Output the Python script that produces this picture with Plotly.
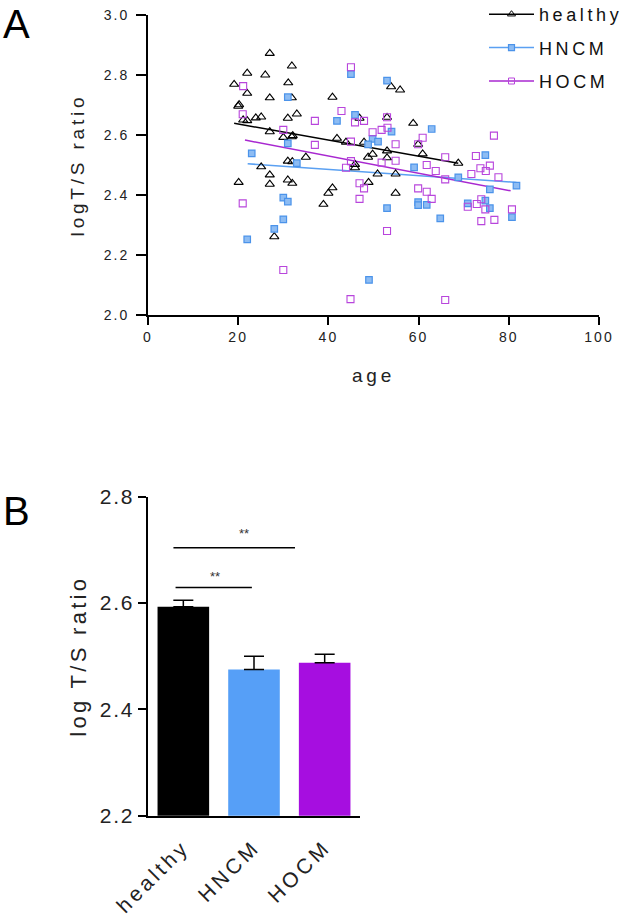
import plotly.graph_objects as go

FONT = "Liberation Sans, Arial, sans-serif"

# ---------------- Panel A data (age, log T/S ratio) ----------------
healthy_age = [27.0, 31.9, 22.0, 26.0, 31.1, 19.1, 22.0, 27.0, 31.9, 20.0, 20.2, 21.1, 22.0, 23.9,
               25.1, 31.0, 33.0, 27.0, 30.0, 31.9, 32.1, 35.0, 31.0, 32.0, 25.1, 27.0, 27.0, 20.1,
               31.0, 32.0, 38.9, 28.0, 53.9, 55.9, 40.9, 46.9, 53.0, 58.8, 41.9, 43.9, 47.9, 59.9,
               48.8, 49.8, 53.0, 53.0, 45.9, 45.9, 50.9, 54.9, 48.9, 40.9, 40.0, 54.9, 60.9, 68.8]
healthy_val = [2.872, 2.830, 2.806, 2.800, 2.774, 2.769, 2.739, 2.724, 2.724, 2.696, 2.701, 2.650,
               2.648, 2.657, 2.660, 2.656, 2.670, 2.611, 2.592, 2.594, 2.598, 2.526, 2.513, 2.511,
               2.494, 2.467, 2.436, 2.442, 2.450, 2.439, 2.369, 2.261, 2.761, 2.750, 2.726, 2.656,
               2.659, 2.639, 2.589, 2.576, 2.576, 2.569, 2.526, 2.536, 2.547, 2.524, 2.502, 2.491,
               2.470, 2.470, 2.442, 2.424, 2.406, 2.406, 2.537, 2.506]

hncm_age = [31.0, 31.0, 23.0, 33.0, 30.0, 31.0, 30.0, 28.0, 22.0, 45.0, 53.0, 41.9, 45.9, 54.0,
            49.8, 51.0, 48.8, 59.0, 53.0, 59.9, 59.9, 62.9, 74.8, 68.8, 75.8, 81.7, 61.8, 70.9,
            74.8, 75.8, 80.7, 64.8, 49.0]
hncm_val = [2.726, 2.572, 2.539, 2.506, 2.391, 2.378, 2.319, 2.287, 2.252, 2.803, 2.781, 2.647,
            2.667, 2.611, 2.587, 2.578, 2.569, 2.492, 2.356, 2.376, 2.366, 2.620, 2.533, 2.459,
            2.419, 2.431, 2.367, 2.372, 2.381, 2.356, 2.326, 2.322, 2.117]

hocm_age = [21.1, 21.0, 30.0, 37.0, 37.0, 21.0, 30.0, 45.0, 42.9, 45.9, 47.9, 53.0, 51.8, 53.1,
            49.8, 54.9, 45.0, 59.9, 54.9, 45.0, 43.9, 51.8, 46.9, 47.9, 46.9, 59.9, 60.9, 65.9,
            72.7, 76.7, 61.8, 63.8, 73.7, 74.9, 75.8, 65.9, 71.7, 77.7, 61.8, 62.9, 73.9, 72.9,
            74.8, 80.7, 73.9, 76.8, 70.9, 53.0, 44.9, 65.9]
hocm_val = [2.763, 2.669, 2.617, 2.647, 2.567, 2.372, 2.150, 2.826, 2.680, 2.642, 2.647, 2.659,
            2.617, 2.624, 2.609, 2.569, 2.578, 2.569, 2.514, 2.513, 2.491, 2.508, 2.439, 2.422,
            2.387, 2.422, 2.591, 2.526, 2.530, 2.598, 2.500, 2.480, 2.489, 2.480, 2.498, 2.452,
            2.470, 2.459, 2.411, 2.387, 2.386, 2.370, 2.352, 2.352, 2.313, 2.317, 2.361, 2.280,
            2.053, 2.050]

# regression lines (start / end)
healthy_fit_age = [19.1, 68.8]
healthy_fit_val = [2.639, 2.506]
hncm_fit_age = [22.1, 81.7]
hncm_fit_val = [2.504, 2.442]
hocm_fit_age = [21.5, 80.4]
hocm_fit_val = [2.583, 2.414]

# ---------------- Panel B data ----------------
groups = ["healthy", "HNCM", "HOCM"]
group_pos = [0, 1, 2]
group_mean = [2.593, 2.475, 2.4875]
group_sem = [0.012, 0.025, 0.016]

# significance brackets: start pos, end pos, height, label position
sig_x0 = [-0.11, -0.14]
sig_x1 = [0.97, 1.58]
sig_y = [2.629, 2.704]
sig_label_x = [0.45, 0.86]
sig_label_y = [2.650, 2.730]
sig_label = ["**", "**"]

C_H = "#000000"
C_N = "#5aa0f2"
C_O = "#b845dc"
BAR_COLORS = ["#000000", "#569ff7", "#a60ee0"]

W, H = 625, 919


def PX(px):
    return px / W


def PY(py):
    return 1 - py / H


fig = go.Figure()

# regression lines
fig.add_trace(go.Scatter(x=healthy_fit_age, y=healthy_fit_val, mode="lines",
                         line=dict(color=C_H, width=1.5), showlegend=False, hoverinfo="skip"))
fig.add_trace(go.Scatter(x=hncm_fit_age, y=hncm_fit_val, mode="lines",
                         line=dict(color=C_N, width=1.5), showlegend=False, hoverinfo="skip"))
fig.add_trace(go.Scatter(x=hocm_fit_age, y=hocm_fit_val, mode="lines",
                         line=dict(color="#a828d0", width=1.5), showlegend=False, hoverinfo="skip"))

# points
fig.add_trace(go.Scatter(x=healthy_age, y=healthy_val, mode="markers", showlegend=False,
                         marker=dict(symbol="triangle-up-open", size=8, color=C_H,
                                     line=dict(width=1.1))))
fig.add_trace(go.Scatter(x=hncm_age, y=hncm_val, mode="markers", showlegend=False,
                         marker=dict(symbol="square", size=6.5, color="#8dbcf3",
                                     line=dict(width=1.2, color="#4b93ea"))))
fig.add_trace(go.Scatter(x=hocm_age, y=hocm_val, mode="markers", showlegend=False,
                         marker=dict(symbol="square-open", size=7, color=C_O,
                                     line=dict(width=1.1))))

# legend entries (line + marker)
fig.add_trace(go.Scatter(x=[None], y=[None], mode="lines+markers", name="healthy", legendgroup="a",
                         line=dict(color=C_H, width=1.5),
                         marker=dict(symbol="triangle-up-open", size=7, color=C_H)))
fig.add_trace(go.Scatter(x=[None], y=[None], mode="lines+markers", name="HNCM", legendgroup="b",
                         line=dict(color=C_N, width=1.5),
                         marker=dict(symbol="square", size=6, color="#8dbcf3",
                                     line=dict(width=1.2, color="#4b93ea"))))
fig.add_trace(go.Scatter(x=[None], y=[None], mode="lines+markers", name="HOCM", legendgroup="c",
                         line=dict(color="#a828d0", width=1.5),
                         marker=dict(symbol="square-open", size=6, color=C_O)))

# bars
fig.add_trace(go.Bar(x=group_pos, y=group_mean, width=0.73, xaxis="x2", yaxis="y2",
                     marker=dict(color=BAR_COLORS, line=dict(width=0)), showlegend=False,
                     error_y=dict(type="data", array=group_sem, arrayminus=[0, 0, 0],
                                  symmetric=False, color="black", thickness=1.5, width=10)))

for x0, x1, y in zip(sig_x0, sig_x1, sig_y):
    fig.add_shape(type="line", xref="x2", yref="y2", x0=x0, x1=x1, y0=y, y1=y,
                  line=dict(color="black", width=1.5))
for lx, ly, lt in zip(sig_label_x, sig_label_y, sig_label):
    fig.add_annotation(x=lx, y=ly, xref="x2", yref="y2", text=lt, showarrow=False,
                       font=dict(family=FONT, size=13, color="#333333"))

# panel letters
fig.add_annotation(x=PX(1), y=PY(0.5), xref="paper", yref="paper", text="A",
                   xanchor="left", yanchor="top",
                   showarrow=False, font=dict(family=FONT, size=40, color="black"))
fig.add_annotation(x=PX(1), y=PY(511), xref="paper", yref="paper", text="B",
                   xanchor="left", yanchor="middle",
                   showarrow=False, font=dict(family=FONT, size=40, color="black"))

axis_common = dict(showline=True, linecolor="black", linewidth=1.5, ticks="outside",
                   tickcolor="black", tickwidth=1.5, showgrid=False, zeroline=False,
                   automargin=False)

fig.update_layout(
    width=W, height=H,
    margin=dict(l=0, r=0, t=0, b=0, autoexpand=False),
    paper_bgcolor="white", plot_bgcolor="white",
    font=dict(family=FONT, color="#222222"),
    xaxis=dict(domain=[PX(148), PX(599)], range=[0, 100], anchor="y",
               tickvals=[0, 20, 40, 60, 80, 100], ticklen=8,
               tickfont=dict(size=14, family=FONT),
               title=dict(text="age", font=dict(size=19, family=FONT), standoff=25),
               **axis_common),
    yaxis=dict(domain=[PY(315), PY(15)], range=[2.0, 3.0], anchor="x",
               tickvals=[2.0, 2.2, 2.4, 2.6, 2.8, 3.0], tickformat=".1f", ticklen=10,
               ticklabelstandoff=4,
               tickfont=dict(size=14, family=FONT),
               title=dict(text="logT/S ratio", font=dict(size=19, family=FONT), standoff=20),
               **axis_common),
    xaxis2=dict(domain=[PX(148), PX(360)], range=[-0.5, 2.5], anchor="y2",
                tickvals=group_pos, ticktext=groups, tickangle=-45, ticklen=0,
                ticks="", tickfont=dict(size=21, family=FONT), ticklabelstandoff=9,
                showline=True, linecolor="black", linewidth=1.5, showgrid=False,
                zeroline=False, automargin=False),
    yaxis2=dict(domain=[PY(815.7), PY(496.7)], range=[2.2, 2.8], anchor="x2",
                tickvals=[2.2, 2.4, 2.6, 2.8], tickformat=".1f", ticklen=8,
                tickfont=dict(size=21, family=FONT),
                title=dict(text="log T/S ratio", font=dict(size=22, family=FONT), standoff=12),
                **axis_common),
    legend=dict(x=PX(484), y=1 + 4 / H, xanchor="left", yanchor="top",
                font=dict(size=18, family=FONT, color="#111111"),
                itemwidth=45, tracegroupgap=7, traceorder="grouped",
                bgcolor="rgba(0,0,0,0)"),
)

POST = """
document.body.style.margin = '0';
var gd = document.getElementById('{plot_id}');
function sp(sel, v) {
  gd.querySelectorAll(sel).forEach(function (t) { t.style.letterSpacing = v; });
}
sp('.legendtext', '0.2em');
sp('.xtitle, .ytitle', '0.2em');
sp('.y2title', '0.15em');
sp('.xtick text, .ytick text', '0.15em');
sp('.y2tick text', '0.08em');
sp('.x2tick text', '0.17em');
gd.querySelectorAll('.legend .scrollbox').forEach(function (e) { e.removeAttribute('clip-path'); });
"""

fig.write_html("out.html", post_script=POST, config={"displayModeBar": False})
